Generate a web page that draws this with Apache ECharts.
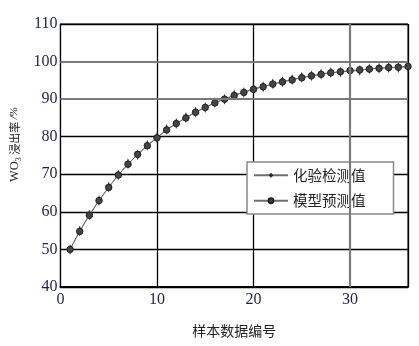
<!DOCTYPE html>
<html>
<head>
<meta charset="utf-8">
<script src="https://cdn.jsdelivr.net/npm/echarts@6/dist/echarts.min.js"></script>
<style>
html, body { margin: 0; padding: 0; background: #fff; }
#chart { width: 419px; height: 346px; }
</style>
</head>
<body>
<div id="chart"></div>
<script>
// 样本编号 1..36
const sampleNo = [1, 2, 3, 4, 5, 6, 7, 8, 9, 10, 11, 12, 13, 14, 15, 16, 17, 18,
  19, 20, 21, 22, 23, 24, 25, 26, 27, 28, 29, 30, 31, 32, 33, 34, 35, 36]
// 化验检测值
const measured = [50.0, 54.9, 59.2, 63.0, 66.6, 69.8, 72.8, 75.2, 77.7, 79.8, 81.9, 83.5,
  85.1, 86.6, 87.8, 89.1, 90.0, 91.1, 91.8, 92.8, 93.3, 94.1, 94.6, 95.2,
  95.8, 96.2, 96.7, 97.1, 97.2, 97.5, 97.6, 98.1, 98.2, 98.4, 98.4, 98.7]
// 模型预测值
const predicted = [50.0, 54.8, 59.1, 63.0, 66.5, 69.8, 72.7, 75.3, 77.6, 79.7, 81.8, 83.5,
  85.0, 86.5, 87.8, 89.0, 90.0, 91.0, 91.8, 92.6, 93.3, 94.0, 94.6, 95.1,
  95.7, 96.2, 96.6, 97.0, 97.3, 97.6, 97.8, 98.0, 98.2, 98.4, 98.5, 98.7]
const legendNames = ['化验检测值', '模型预测值']
const grayLinesX = [30]
const grayLinesY = [90, 100]

const pair = (ys) => ys.map((v, i) => [sampleNo[i], v])
const serif = 'Liberation Serif'
const cjk = 'Noto Sans CJK SC'
const labelColor = '#1e2240'

const chart = echarts.init(document.getElementById('chart'))

const option = {
  animation: false,
  backgroundColor: '#fff',
  grid: {
    left: 60, top: 24, right: 11, bottom: 59,
    show: true, borderColor: '#000', borderWidth: 1
  },
  legend: {
    data: legendNames,
    orient: 'vertical',
    left: 247, top: 162,
    // 图例中的标记跟随 itemHeight 缩放，所以用较小的 itemHeight
    itemWidth: 34, itemHeight: 6, itemGap: 11,
    padding: [6, 28, 6, 6],
    backgroundColor: '#fff',
    borderColor: '#888', borderWidth: 1.5, borderRadius: 0,
    textStyle: {fontFamily: cjk, fontSize: 14.5, lineHeight: 14, color: '#222'}
  },
  xAxis: {
    type: 'value', min: 0, max: 36, interval: 10,
    name: '样本数据编号', nameLocation: 'middle', nameGap: 37,
    nameTextStyle: {fontFamily: cjk, fontSize: 14, color: '#222'},
    axisLine: {show: true, lineStyle: {color: '#000', width: 2}},
    axisTick: {show: false},
    axisLabel: {showMaxLabel: false, margin: 5, fontFamily: serif, fontSize: 16, color: labelColor},
    splitLine: {show: true, lineStyle: {color: ['#000', '#000', '#000', 'rgba(0,0,0,0)', '#000'], width: 1.3}}
  },
  yAxis: {
    type: 'value', min: 40, max: 110, interval: 10,
    name: '{a|WO}{s|3}{b| 浸出率 }{c|/%}', nameLocation: 'middle', nameGap: 30, nameRotate: 90,
    nameTextStyle: {
      color: '#222',
      padding: [0, 0, 0, 22],
      rich: {
        a: {fontFamily: serif, fontSize: 12.5, color: '#222', lineHeight: 16},
        s: {fontFamily: serif, fontSize: 8, color: '#222', verticalAlign: 'bottom', lineHeight: 16},
        b: {fontFamily: cjk, fontSize: 11, color: '#222', lineHeight: 16},
        c: {fontFamily: serif, fontSize: 11, fontStyle: 'italic', color: '#222', lineHeight: 16}
      }
    },
    axisLine: {show: true, lineStyle: {color: '#000', width: 1}},
    axisTick: {show: false},
    axisLabel: {margin: 3, fontFamily: serif, fontSize: 16, color: labelColor},
    splitLine: {show: true, lineStyle: {
      color: ['#000', '#000', '#000', '#000', '#000', 'rgba(0,0,0,0)', 'rgba(0,0,0,0)', '#000'],
      width: 1.3
    }}
  },
  series: [
    {
      name: legendNames[0], type: 'line', data: pair(measured),
      symbol: 'diamond', symbolSize: [4, 11],
      lineStyle: {color: '#6e6e6e', width: 1},
      itemStyle: {color: '#2a2a2a'},
      z: 3,
      markLine: {
        silent: true, symbol: 'none', label: {show: false},
        lineStyle: {color: '#7a7a7a', width: 2.2, type: 'solid'},
        data: grayLinesX.map(v => ({xAxis: v})).concat(grayLinesY.map(v => ({yAxis: v})))
      }
    },
    {
      name: legendNames[1], type: 'line', data: pair(predicted),
      symbol: 'circle', symbolSize: 6.5,
      lineStyle: {color: '#6e6e6e', width: 1},
      itemStyle: {color: '#444', borderColor: '#222', borderWidth: 1},
      z: 4
    }
  ]
}

chart.setOption(option)
</script>
</body>
</html>
